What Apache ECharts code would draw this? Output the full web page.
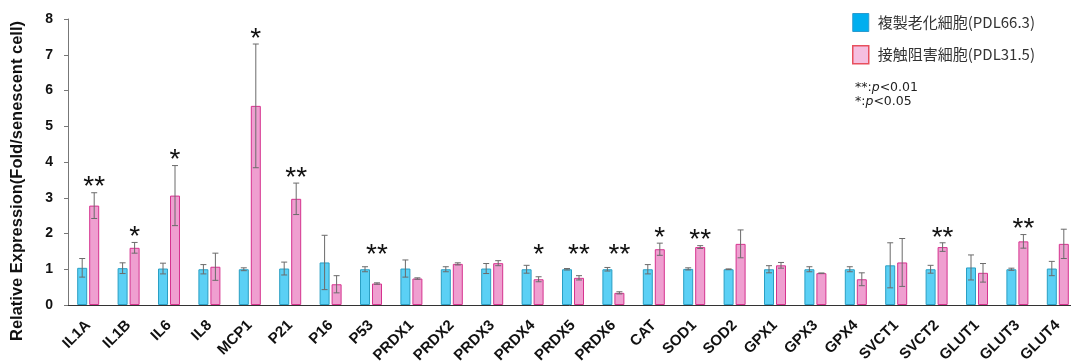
<!DOCTYPE html>
<html>
<head>
<meta charset="utf-8">
<script src="https://cdn.jsdelivr.net/npm/echarts@6/dist/echarts.min.js"></script>
<style>html,body{margin:0;padding:0;background:#fff}#c{width:1071px;height:362px}</style>
</head>
<body>
<div id="c"></div>
<script>
const categories = ['IL1A','IL1B','IL6','IL8','MCP1','P21','P16','P53','PRDX1','PRDX2','PRDX3','PRDX4','PRDX5','PRDX6','CAT','SOD1','SOD2','GPX1','GPX3','GPX4','SVCT1','SVCT2','GLUT1','GLUT3','GLUT4'];
const senescent = [1.04,1.03,1.02,1.00,1.00,1.02,1.19,1.00,1.02,1.00,1.02,1.00,1.00,1.00,1.00,1.01,1.00,1.00,1.00,1.00,1.11,1.00,1.05,1.00,1.02];
const senescentErr = [0.26,0.15,0.15,0.13,0.04,0.18,0.76,0.07,0.24,0.07,0.14,0.11,0.02,0.05,0.13,0.03,0.01,0.10,0.07,0.07,0.63,0.11,0.35,0.03,0.20];
const contact = [2.78,1.60,3.06,1.07,5.57,2.97,0.58,0.60,0.74,1.15,1.17,0.72,0.76,0.34,1.56,1.62,1.71,1.11,0.89,0.72,1.19,1.62,0.90,1.78,1.71];
const contactErr = [0.36,0.15,0.84,0.38,1.73,0.44,0.24,0.02,0.02,0.03,0.07,0.07,0.06,0.03,0.17,0.04,0.39,0.08,0.00,0.18,0.67,0.12,0.26,0.19,0.41];
const significance = ['**','*','*','','*','**','','**','','','','*','**','**','*','**','','','','','','**','','**',''];
const yTicks = [0,1,2,3,4,5,6,7,8];
const seriesNames = ['複製老化細胞(PDL66.3)','接触阻害細胞(PDL31.5)'];

const chart = echarts.init(document.getElementById('c'));

function errRender(offset) {
  return function (params, api) {
    const x = api.coord([api.value(0), 0])[0] + offset;
    const v = api.value(1), e = api.value(2);
    const top = api.coord([0, v + e])[1];
    const bot = api.coord([0, v - e])[1];
    const st = {stroke: '#6b6b6b', lineWidth: 1};
    return {type: 'group', children: [
      {type: 'line', shape: {x1: x, y1: top, x2: x, y2: bot}, style: st},
      {type: 'line', shape: {x1: x - 3, y1: top, x2: x + 3, y2: top}, style: st},
      {type: 'line', shape: {x1: x - 3, y1: bot, x2: x + 3, y2: bot}, style: st}
    ]};
  };
}

const blueErrData = categories.map((c, i) => [i, senescent[i], senescentErr[i]]);
const pinkErrData = categories.map((c, i) => [i, contact[i], contactErr[i]]);
const starData = categories.map((c, i) => [i, Math.max(senescent[i] + senescentErr[i], contact[i] + contactErr[i]), significance[i]]);

chart.setOption({
  animation: false,
  grid: {left: 68, top: 19, bottom: 57, right: -7, outerBoundsMode: 'none', containLabel: false},
  xAxis: {
    type: 'category',
    data: categories,
    axisLine: {lineStyle: {color: '#333', width: 1}},
    axisTick: {show: false},
    axisLabel: {
      rotate: 45, margin: 18, interval: 0,
      fontFamily: 'Liberation Sans', fontWeight: 'bold',
      fontSize: 15, color: '#111'
    }
  },
  yAxis: {
    type: 'value', min: 0, max: 8, interval: 1,
    splitLine: {show: false},
    axisLine: {show: true, lineStyle: {color: '#777'}},
    axisTick: {show: true, length: 4, lineStyle: {color: '#777'}},
    axisLabel: {
      margin: 15, fontFamily: 'Liberation Sans', fontWeight: 'bold', fontSize: 14, color: '#111',
      formatter: v => yTicks.includes(v) ? String(v) : ''
    }
  },
  legend: {
    orient: 'vertical', left: 852, top: 13, padding: 0,
    itemWidth: 16, itemHeight: 18, itemGap: 13,
    textStyle: {fontFamily: 'Noto Sans CJK JP', fontSize: 15, color: '#333', padding: [0, 0, 0, 4]},
    data: [
      {name: seriesNames[0], icon: 'rect', itemStyle: {color: '#00aeef', borderColor: '#2a9bcf', borderWidth: 1}},
      {name: seriesNames[1], icon: 'rect', itemStyle: {color: '#f5bfe0', borderColor: '#e8505e', borderWidth: 1.5}}
    ]
  },
  graphic: [
    {type: 'text', x: 17, y: 181, rotation: Math.PI / 2,
     style: {text: 'Relative Expression(Fold/senescent cell)', fontFamily: 'Liberation Sans', fontWeight: 'bold', fontSize: 16.5, fill: '#111', align: 'center', verticalAlign: 'middle'}},
    {type: 'text', left: 855, top: 81,
     style: {text: '**:{i|p}<0.01\n*:{i|p}<0.05', fontFamily: 'DejaVu Sans', fontSize: 12.5, lineHeight: 14, fill: '#222',
       rich: {i: {fontStyle: 'italic', fontFamily: 'DejaVu Sans', fontSize: 12.5, fill: '#222', lineHeight: 14}}}}
  ],
  series: [
    {name: seriesNames[0], type: 'bar', data: senescent, barWidth: 10, barGap: '20%',
     itemStyle: {color: '#5bd0f5', borderColor: '#2a9fc4', borderWidth: 1}},
    {name: seriesNames[1], type: 'bar', data: contact, barWidth: 10, barGap: '20%',
     itemStyle: {color: '#ef9fd0', borderColor: '#d6338f', borderWidth: 1}},
    {type: 'custom', renderItem: errRender(-6), data: blueErrData, z: 5, encode: {x: 0, y: 1}, silent: true},
    {type: 'custom', renderItem: errRender(6), data: pinkErrData, z: 5, encode: {x: 0, y: 1}, silent: true},
    {type: 'custom', z: 6, silent: true, encode: {x: 0, y: 1}, data: starData,
     renderItem: function (params, api) {
       const i = api.value(0);
       const s = significance[i];
       if (!s) return null;
       const x = api.coord([i, 0])[0] + 6;
       const y = api.coord([0, Math.max(api.value(1), 1.26)])[1] - 11;
       return {type: 'text', x: x, y: y + 6,
         style: {text: s, fontFamily: 'Liberation Sans', fontSize: 28, fill: '#111', align: 'center', verticalAlign: 'middle'}};
     }}
  ]
});
</script>
</body>
</html>
